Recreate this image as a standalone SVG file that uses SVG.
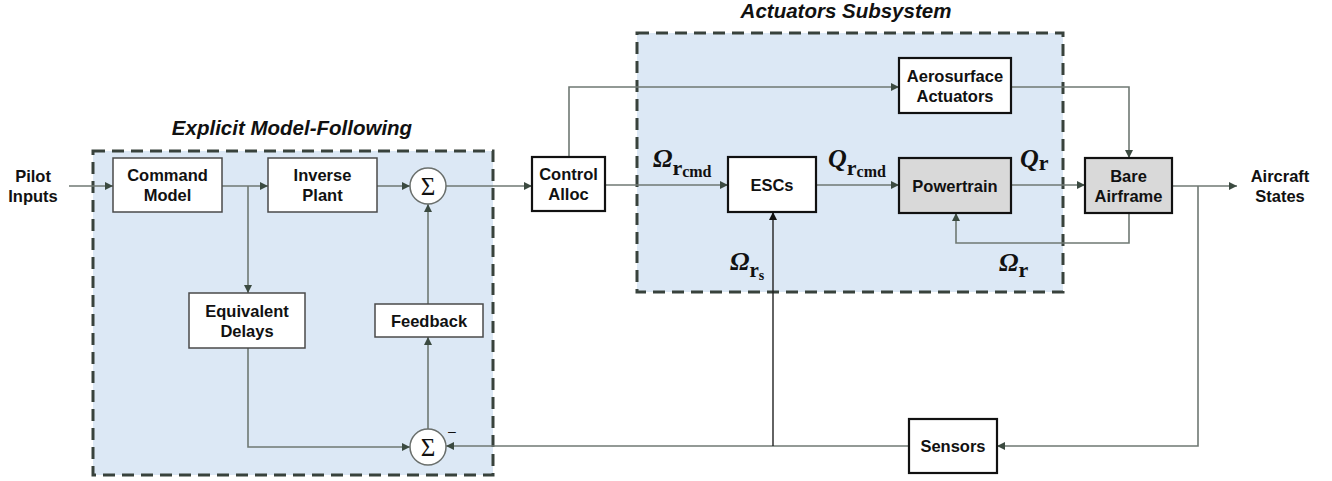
<svg xmlns="http://www.w3.org/2000/svg" width="1332" height="481" viewBox="0 0 1332 481">
  <style>
    .region { fill: #dce8f5; stroke: #38423c; stroke-width: 3; stroke-dasharray: 12 7; }
    .blk { fill: #ffffff; stroke: #4a4a4a; stroke-width: 1.5; }
    .blk2 { fill: #ffffff; stroke: #111111; stroke-width: 2.2; }
    .gray { fill: #d9d9d9; }
    .sum { fill: #ffffff; stroke: #6a6f6c; stroke-width: 1.5; }
    .lbl { font-family: "Liberation Sans", Arial, sans-serif; font-weight: bold; font-size: 16.5px; fill: #111; text-anchor: middle; }
    .title { font-family: "Liberation Sans", Arial, sans-serif; font-weight: bold; font-style: italic; font-size: 20.5px; fill: #111; text-anchor: middle; }
    .sig { font-family: "Liberation Serif", "Times New Roman", serif; font-size: 25px; fill: #111; text-anchor: middle; }
    .math { font-family: "Liberation Serif", "Times New Roman", serif; font-weight: bold; fill: #111; }
    .wire { fill: none; stroke: #6f7873; stroke-width: 1.6; }
    .wire.dark { stroke: #222; stroke-width: 1.4; }
  </style>
  <defs>
    <marker id="arr" viewBox="0 0 10 10" refX="10" refY="5" markerWidth="8" markerHeight="8" markerUnits="userSpaceOnUse" orient="auto">
      <path d="M0,0 L10,5 L0,10 z" fill="#3b4a40"/>
    </marker>
    <marker id="arrk" viewBox="0 0 10 10" refX="10" refY="5" markerWidth="8" markerHeight="8" markerUnits="userSpaceOnUse" orient="auto">
      <path d="M0,0 L10,5 L0,10 z" fill="#111"/>
    </marker>
  </defs>

  <!-- subsystem regions -->
  <g id="emf-region">
    <rect class="region" x="93" y="151" width="400" height="324"/>
    <text class="title" x="292" y="135">Explicit Model-Following</text>
  </g>
  <g id="actuators-region">
    <rect class="region" x="637" y="33" width="426" height="259"/>
    <text class="title" x="846" y="18">Actuators Subsystem</text>
  </g>

  <!-- signal lines -->
  <g id="connectors">
    <path class="wire" d="M69,186 H113" marker-end="url(#arr)"/>
    <path class="wire" d="M222,186 H268" marker-end="url(#arr)"/>
    <path class="wire" d="M248,186 V293" marker-end="url(#arr)"/>
    <path class="wire" d="M377,186 H410" marker-end="url(#arr)"/>
    <path class="wire" d="M446,186 H532" marker-end="url(#arr)"/>
    <path class="wire" d="M248,348 V447 H410" marker-end="url(#arr)"/>
    <path class="wire" d="M428,429 V337" marker-end="url(#arr)"/>
    <path class="wire" d="M428,304 V204" marker-end="url(#arr)"/>
    <path class="wire" d="M569,157 V87 H899" marker-end="url(#arr)"/>
    <path class="wire" d="M605,185 H728" marker-end="url(#arr)"/>
    <path class="wire" d="M816,185 H899" marker-end="url(#arr)"/>
    <path class="wire" d="M1011,185 H1085" marker-end="url(#arr)"/>
    <path class="wire" d="M1011,87 H1129 V158" marker-end="url(#arr)"/>
    <path class="wire" d="M1129,213 V243 H956 V213" marker-end="url(#arr)"/>
    <path class="wire" d="M1172,186 H1237" marker-end="url(#arr)"/>
    <path class="wire" d="M1198,186 V446 H997" marker-end="url(#arr)"/>
    <path class="wire" d="M909,446 H446" marker-end="url(#arr)"/>
    <path class="wire dark" d="M773,446 V212" marker-end="url(#arrk)"/>
  </g>

  <!-- external labels -->
  <g id="pilot-inputs">
    <text class="lbl" x="33" y="182">Pilot</text>
    <text class="lbl" x="33" y="202">Inputs</text>
  </g>
  <g id="aircraft-states">
    <text class="lbl" x="1280" y="182">Aircraft</text>
    <text class="lbl" x="1280" y="202">States</text>
  </g>

  <!-- model-following blocks -->
  <g id="command-model">
    <rect class="blk" x="113" y="158" width="109" height="54"/>
    <text class="lbl" x="167.5" y="181">Command</text>
    <text class="lbl" x="167.5" y="201">Model</text>
  </g>
  <g id="inverse-plant">
    <rect class="blk" x="268" y="158" width="109" height="54"/>
    <text class="lbl" x="322.5" y="181">Inverse</text>
    <text class="lbl" x="322.5" y="201">Plant</text>
  </g>
  <g id="sum-cmd">
    <circle class="sum" cx="428" cy="186" r="18"/>
    <text class="sig" x="428" y="194.5">Σ</text>
  </g>
  <g id="equivalent-delays">
    <rect class="blk" x="189" y="293" width="116" height="55"/>
    <text class="lbl" x="247" y="316.5">Equivalent</text>
    <text class="lbl" x="247" y="336.5">Delays</text>
  </g>
  <g id="feedback">
    <rect class="blk" x="375" y="304" width="108" height="33"/>
    <text class="lbl" x="429" y="326.5">Feedback</text>
  </g>
  <g id="sum-err">
    <circle class="sum" cx="428" cy="447" r="18"/>
    <text class="sig" x="428" y="455.5">Σ</text>
    <text class="lbl" x="452" y="436" style="font-weight:normal;font-size:14px">–</text>
  </g>

  <!-- allocation and actuator blocks -->
  <g id="control-alloc">
    <rect class="blk2" x="532" y="157" width="73" height="54"/>
    <text class="lbl" x="568.5" y="180">Control</text>
    <text class="lbl" x="568.5" y="200">Alloc</text>
  </g>
  <g id="escs">
    <rect class="blk2" x="728" y="157" width="88" height="55"/>
    <text class="lbl" x="772" y="190.5">ESCs</text>
  </g>
  <g id="aerosurface-actuators">
    <rect class="blk2" x="899" y="58" width="112" height="55"/>
    <text class="lbl" x="955" y="81.5">Aerosurface</text>
    <text class="lbl" x="955" y="101.5">Actuators</text>
  </g>
  <g id="powertrain">
    <rect class="blk2 gray" x="899" y="158" width="112" height="55"/>
    <text class="lbl" x="955" y="191.5">Powertrain</text>
  </g>
  <g id="bare-airframe">
    <rect class="blk2 gray" x="1085" y="158" width="87" height="55"/>
    <text class="lbl" x="1128.5" y="181.5">Bare</text>
    <text class="lbl" x="1128.5" y="201.5">Airframe</text>
  </g>
  <g id="sensors">
    <rect class="blk2" x="909" y="419" width="88" height="54"/>
    <text class="lbl" x="953" y="452">Sensors</text>
  </g>

  <!-- signal names -->
  <g id="signal-labels">
    <text class="math" x="653" y="167"><tspan font-size="26" font-style="italic">Ω</tspan><tspan font-size="22" dy="8">r</tspan><tspan font-size="16" dy="2">cmd</tspan></text>
    <text class="math" x="828" y="167"><tspan font-size="26" font-style="italic">Q</tspan><tspan font-size="22" dy="8">r</tspan><tspan font-size="16" dy="2">cmd</tspan></text>
    <text class="math" x="1020" y="167"><tspan font-size="26" font-style="italic">Q</tspan><tspan font-size="22" dy="3">r</tspan></text>
    <text class="math" x="999" y="271"><tspan font-size="26" font-style="italic">Ω</tspan><tspan font-size="22" dy="6">r</tspan></text>
    <text class="math" x="730" y="270"><tspan font-size="26" font-style="italic">Ω</tspan><tspan font-size="21" dy="7">r</tspan><tspan font-size="14" dy="3">s</tspan></text>
  </g>
</svg>
